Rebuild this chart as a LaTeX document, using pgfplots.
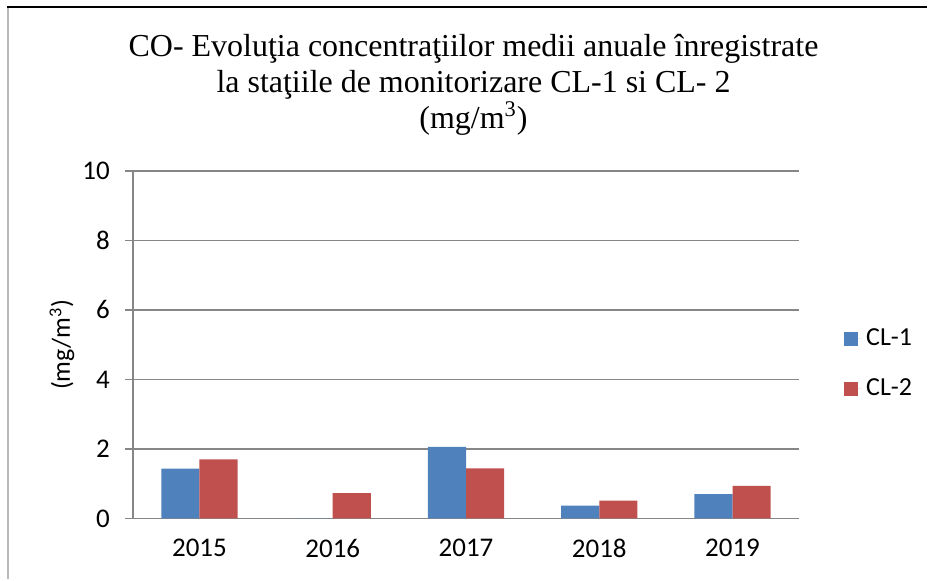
\documentclass[border=0pt]{standalone}
\usepackage{fontspec}
\setmainfont{Liberation Serif}
\newfontfamily\calibri{Carlito}
\usepackage{pgfplots}
\pgfplotsset{compat=1.18}
\definecolor{clA}{HTML}{4F81BD}
\definecolor{clB}{HTML}{C0504D}
\definecolor{gridc}{HTML}{868686}

\begin{document}
\begin{tikzpicture}[x=1pt,y=1pt]
\path (0,0) rectangle (464,290);
% frame of the page
\draw[black, line width=1pt] (3.5,286.5) -- (464,286.5);
\draw[gray!55, line width=1.1pt] (4,286) -- (4,0);
% title, one node per line
\begin{scope}[every node/.style={anchor=base, inner sep=0pt, font=\fontsize{16}{18}\selectfont}]
\node at (237,261.5) {CO- Evoluţia concentraţiilor medii anuale înregistrate};
\node at (237,243.5) {la staţiile de monitorizare CL-1 si CL- 2};
\node at (237,225.5) {(mg/m\textsuperscript{3})};
\end{scope}
\begin{axis}[
    at={(66.5pt,30.5pt)}, anchor=south west,
    scale only axis,
    width=333.5pt, height=174pt,
    ybar=0pt, bar width=19.06pt,
    xmin=-0.5, xmax=4.5,
    ymin=0, ymax=10,
    xtick={0,...,4},
    xticklabels={2015,2016,2017,2018,2019},
    ytick={0,2,...,10},
    axis x line*=bottom, axis y line*=left,
    axis line style={-, draw=gridc, line width=0.75pt},
    ymajorgrids, grid style={gridc, line width=0.75pt},
    tick align=outside, major tick length=4pt,
    major y tick style={gridc, line width=0.75pt},
    major x tick style={draw=none},
    /pgf/number format/assume math mode=true,
    tick label style={font=\calibri\fontsize{13.5}{16}\selectfont},
    y tick label style={xshift=-4pt},
    x tick label style={yshift=-3pt},
    ylabel={(mg/m\textsuperscript{3})},
    ylabel style={font=\calibri\fontsize{13}{15}\selectfont,
                  at={(axis description cs:-0.1064,0.5)}, anchor=center},
    legend style={at={(1.058,0.445)}, anchor=west, draw=none, fill=none,
                  font=\calibri\fontsize{13}{15}\selectfont, row sep=11.2pt},
    legend cell align=left,
    legend image code/.code={\fill[#1] (0pt,-3.5pt) rectangle (7pt,3.5pt);
                             \path (0pt,0pt) -- (9pt,0pt);},
]
\addplot[fill=clA, draw=none] coordinates {(0,1.43) (1,0) (2,2.06) (3,0.37) (4,0.70)};
\addplot[fill=clB, draw=none] coordinates {(0,1.70) (1,0.73) (2,1.44) (3,0.51) (4,0.94)};
\legend{CL-1, CL-2}
\end{axis}
\end{tikzpicture}
\end{document}
